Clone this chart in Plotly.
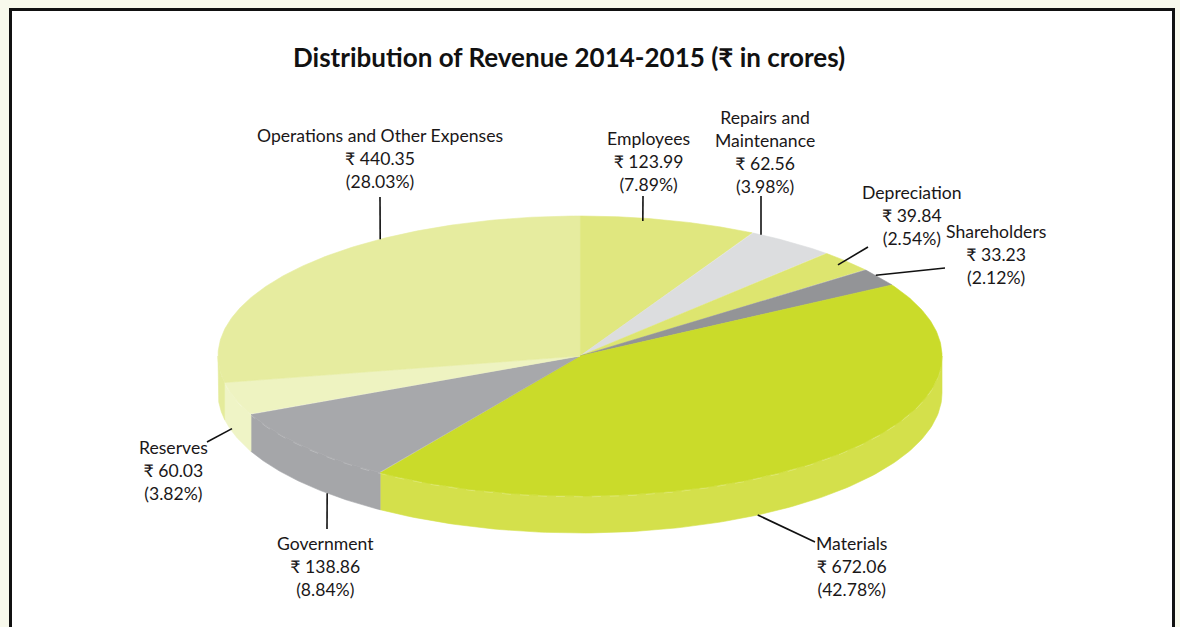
import numpy as np
import plotly.graph_objects as go

# ---------------- data ----------------
categories = ["Employees", "Repairs and Maintenance", "Depreciation", "Shareholders",
              "Materials", "Government", "Reserves", "Operations and Other Expenses"]
label_names = ["Employees", "Repairs and<br>Maintenance", "Depreciation", "Shareholders",
               "Materials", "Government", "Reserves", "Operations and Other Expenses"]
values = [123.99, 62.56, 39.84, 33.23, 672.06, 138.86, 60.03, 440.35]
percents = [7.89, 3.98, 2.54, 2.12, 42.78, 8.84, 3.82, 28.03]
title_text = "<b>Distribution of Revenue 2014-2015 (₹ in crores)</b>"

# ---------------- style / layout ----------------
top_colors = ["#e0e77f", "#dcdddf", "#dde56f", "#939497",
              "#cadb2a", "#a7a8ab", "#eef3c1", "#e6ec9f"]
side_colors = ["#dde47a", "#d3d4d6", "#d8e06a", "#8c8d90",
               "#d4e04b", "#a5a6a9", "#eff4c6", "#e4eb9b"]
CX, CY, A, B, DEPTH = 580.0, 356.0, 362.0, 140.0, 37.0
W, H = 1180, 627
FONT = "Lato, 'Noto Sans', 'DejaVu Sans', sans-serif"
TXT = "#1a1718"

# label placement: (text centre x, first line centre y)
label_pos = {
    "Employees": (648, 138),
    "Repairs and Maintenance": (765, 117),
    "Depreciation": (912, 192),
    "Shareholders": (996, 231),
    "Materials": (851, 543),
    "Government": (325, 543),
    "Reserves": (173, 447),
    "Operations and Other Expenses": (380, 135),
}
# leader: outer end (px) and pie anchor (angle deg clockwise from top, radius fraction, drop)
leader = {
    "Employees": ((643, 196), (10.2, 0.98, 0)),
    "Repairs and Maintenance": ((761, 196), (30.0, 1.0, 0)),
    "Depreciation": ((868, 247), (47.6, 0.965, 0)),
    "Shareholders": ((945, 268), (54.8, 1.0, 0)),
    "Materials": ((815, 542), (150.6, 1.0, DEPTH)),
    "Government": ((327, 529), (224.3, 1.0, DEPTH)),
    "Reserves": ((207, 442), (254.0, 1.0, DEPTH - 3)),
    "Operations and Other Expenses": ((380, 197), (326.5, 1.0, 0)),
}


def pt(theta_deg, r=1.0, drop=0.0):
    t = np.radians(theta_deg)
    return CX + r * A * np.sin(t), CY - r * B * np.cos(t) + drop


fig = go.Figure()

vals = np.array(values, dtype=float)
cum = np.concatenate([[0.0], np.cumsum(vals)]) / vals.sum() * 360.0

# side faces (front half: 90..270 deg)
for i in range(len(values)):
    s, e = max(cum[i], 90.0), min(cum[i + 1], 270.0)
    if e <= s:
        continue
    th = np.linspace(s, e, 120)
    xt, yt = pt(th)
    xb, yb = pt(th[::-1], 1.0, DEPTH)
    fig.add_trace(go.Scatter(
        x=np.concatenate([xt, xb, xt[:1]]), y=np.concatenate([yt, yb, yt[:1]]),
        mode="lines", fill="toself", fillcolor=side_colors[i],
        line=dict(color=side_colors[i], width=0.6), hoverinfo="skip", showlegend=False))

# thin light seam along front top edge
th = np.linspace(96, 262, 300)
xs, ys = pt(th, 1.0, 0.8)
fig.add_trace(go.Scatter(x=xs, y=ys, mode="lines",
                         line=dict(color="rgba(255,255,255,0.35)", width=0.7, dash="dash"),
                         hoverinfo="skip", showlegend=False))

# top faces
for i in range(len(values)):
    th = np.linspace(cum[i], cum[i + 1], 200)
    xa, ya = pt(th)
    fig.add_trace(go.Scatter(
        x=np.concatenate([[CX], xa, [CX]]), y=np.concatenate([[CY], ya, [CY]]),
        mode="lines", fill="toself", fillcolor=top_colors[i],
        line=dict(color=top_colors[i], width=0.6), hoverinfo="skip",
        name=categories[i], showlegend=False))

shapes = [dict(type="rect", xref="x", yref="y", x0=10.5, y0=9.5, x1=1173.5, y1=660,
               line=dict(color="#111111", width=3), fillcolor="white", layer="below")]
annotations = [dict(x=569, y=57, xref="x", yref="y", text=title_text, showarrow=False,
                    font=dict(family=FONT, size=26, color="#111111"),
                    xanchor="center", yanchor="middle")]

LH = 22.8
for i, cat in enumerate(categories):
    lx, ly = label_pos[cat]
    txt = f"{label_names[i]}<br>₹ {values[i]:.2f}<br>({percents[i]:.2f}%)"
    annotations.append(dict(x=lx, y=ly - LH / 2, xref="x", yref="y", text=txt,
                            showarrow=False, xanchor="center", yanchor="top",
                            borderpad=0, align="center",
                            font=dict(family=FONT, size=17.6, color=TXT)))
    (ox, oy), (ang, r, drop) = leader[cat]
    px, py = pt(ang, r, drop)
    shapes.append(dict(type="line", xref="x", yref="y", x0=ox, y0=oy, x1=float(px), y1=float(py),
                       line=dict(color="#111111", width=1.6)))

fig.update_layout(
    width=W, height=H, autosize=False,
    margin=dict(l=0, r=0, t=0, b=0),
    paper_bgcolor="#f8f9ec", plot_bgcolor="#f8f9ec",
    xaxis=dict(range=[0, W], visible=False, fixedrange=True),
    yaxis=dict(range=[H, 0], visible=False, fixedrange=True),
    shapes=shapes, annotations=annotations, showlegend=False,
)

fig.write_html("out.html", config={"displayModeBar": False},
               post_script="document.body.style.margin='0';document.body.style.overflow='hidden';")
